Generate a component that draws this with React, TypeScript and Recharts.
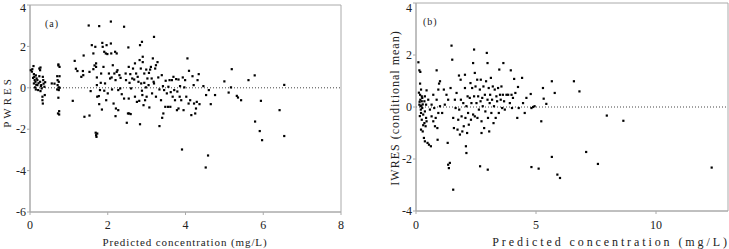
import {
  ScatterChart,
  Scatter,
  XAxis,
  YAxis,
  ReferenceLine,
  ReferenceArea,
  Label,
} from 'recharts'

// panel (a): predicted concentration (mg/L) vs PWRES
const lowConcA: [number, number][] = [
  [0.02, 0.85], [0.06, 0.9], [0.09, 1.05], [0.1, 0.66], [0.11, 0.53], [0.12, 0.37], [0.1, 0.21], [0.13, 0.02], [0.15, -0.08], [0.15, 0.6],
  [0.17, 0.45], [0.14, 0.29], [0.19, 0.13], [0.21, -0.11], [0.19, 0.37], [0.24, 0.93], [0.26, 0.85], [0.27, 0.98], [0.24, 0.56], [0.26, 0.29],
  [0.29, 0.13], [0.3, -0.03], [0.27, -0.16], [0.32, -0.43], [0.32, -0.6], [0.33, -0.76], [0.34, 0.37], [0.35, 0.2], [0.37, 0.05], [0.38, -0.35],
  [0.39, 0.27], [0.33, 0.53], [0.56, 0.21], [0.63, 0.2], [0.73, 1.13], [0.73, 1.08], [0.76, 1.01], [0.7, 0.56], [0.76, 0.56], [0.71, 0.37],
  [0.74, 0.29], [0.71, 0.13], [0.74, 0.02], [0.7, -0.08], [0.74, -0.11], [0.76, 0.0], [0.73, -0.48], [0.75, -1.13], [0.75, -1.29], [0.72, -1.24],
  [0.05, 0.78], [0.08, 0.48], [0.16, 0.15], [0.22, 0.22], [0.28, 0.08],
]

const midConcA: [number, number][] = [
  [1.1, -0.63], [1.15, 1.3], [1.18, 0.92], [1.22, 0.81], [1.32, 0.53], [1.36, 0.81], [1.38, 1.56], [1.4, -1.4], [1.37, 0.61], [1.51, 3.01],
  [1.53, -1.34], [1.53, 0.77], [1.56, -0.16], [1.59, 2.06], [1.63, 1.66], [1.66, 1.08], [1.63, 0.9], [1.68, 1.98], [1.7, 1.01], [1.7, 1.18],
  [1.72, 0.5], [1.72, 0.13], [1.73, -0.43], [1.69, -2.17], [1.7, -2.29], [1.71, -2.37], [1.73, -2.21], [1.78, 2.98], [1.77, -0.4], [1.78, -0.79],
  [1.8, -0.11], [1.82, 0.24], [1.83, 0.69], [1.85, -1.05], [1.86, 2.17], [1.87, 1.98], [1.89, 1.01], [1.91, -0.14], [1.91, 1.74], [1.93, 0.21],
  [1.95, 1.66], [1.96, -0.6], [1.97, 2.06], [1.99, 1.63], [2.0, -0.27], [2.03, 0.69], [2.06, 0.45], [2.08, 3.2], [2.08, 2.14], [2.09, 1.66],
  [2.1, 0.5], [2.11, -0.08], [2.13, 1.09], [2.15, -0.76], [2.17, 0.69], [2.19, 1.74], [2.2, 0.37], [2.2, -1.37], [2.21, -1.0], [2.23, 1.66],
  [2.23, 0.77], [2.25, 0.85], [2.27, -0.11], [2.27, -1.08], [2.3, 0.61], [2.32, -0.03], [2.33, 0.48], [2.36, -0.31], [2.42, 2.95], [2.42, -0.52],
  [2.46, 0.69], [2.47, 0.37], [2.49, -1.69], [2.52, -1.24], [2.53, 1.95], [2.54, 1.01], [2.54, -0.52], [2.55, -1.24], [2.56, 0.24], [2.58, 0.66],
  [2.59, -1.27], [2.6, -0.03], [2.63, 0.45], [2.65, 0.93], [2.68, 0.4], [2.7, -0.43], [2.7, 1.18], [2.73, 0.69], [2.75, -0.68], [2.77, 0.53],
  [2.79, 0.29], [2.81, -0.63], [2.82, 1.34], [2.83, -1.76], [2.83, 2.06], [2.85, 0.93], [2.86, 0.21], [2.88, 2.22], [2.88, -0.14], [2.89, -0.35],
  [2.9, 1.5], [2.9, 1.24], [2.92, -0.84], [2.94, 0.24], [2.94, 0.69], [2.96, -0.6], [2.98, 0.02], [2.99, 0.88],
]

const highConcA: [number, number][] = [
  [3.0, -0.43], [3.02, 0.45], [3.05, 0.13], [3.06, 0.72], [3.07, -0.95], [3.09, 0.88], [3.11, 1.01], [3.13, 0.45], [3.14, -0.27], [3.16, 1.42],
  [3.18, 0.29], [3.19, 2.46], [3.19, 0.21], [3.22, 0.93], [3.24, -0.43], [3.24, 1.09], [3.28, 1.24], [3.3, 0.5], [3.33, -0.08], [3.33, -1.85],
  [3.37, -0.6], [3.39, 0.61], [3.4, -1.45], [3.42, 0.08], [3.43, -1.24], [3.45, -0.11], [3.48, -0.92], [3.49, 0.34], [3.52, -0.27], [3.55, -0.92],
  [3.56, 0.05], [3.59, 0.37], [3.61, -0.92], [3.62, -0.21], [3.65, 0.37], [3.67, -0.43], [3.69, 0.53], [3.71, -0.11], [3.73, -0.6], [3.76, 0.42],
  [3.78, -1.08], [3.79, -0.18], [3.82, 0.4], [3.82, -1.0], [3.85, -0.43], [3.86, 0.08], [3.89, -0.6], [3.91, -2.98], [3.93, 0.5], [3.95, -1.08],
  [3.97, 0.02], [3.99, 0.37], [4.02, -0.43], [4.05, 1.42], [4.08, -0.76], [4.09, 0.82], [4.12, -0.6], [4.15, -1.32], [4.18, 0.56], [4.21, 0.13],
  [4.22, -0.76], [4.25, -1.24], [4.27, -1.0], [4.29, -0.68], [4.31, 0.37], [4.34, 0.66], [4.36, -0.79], [4.46, 0.08], [4.52, -3.85], [4.53, -0.35],
  [4.58, -3.27], [4.6, -0.11], [4.65, -0.79], [4.76, -0.35], [5.0, 0.31], [5.11, -0.23], [5.17, 0.02], [5.19, 0.9], [5.32, -0.39], [5.35, -0.47],
  [5.43, -0.6], [5.62, 0.37], [5.78, 0.6], [5.79, -1.63], [5.91, -2.09], [5.94, -0.63], [5.97, -2.53], [6.42, -1.08], [6.54, 0.14], [6.54, -2.33],
]

// panel (b): predicted concentration (mg/L) vs IWRES (conditional mean)
const lowConcB: [number, number][] = [
  [0.1, 1.72], [0.14, 1.41], [0.18, 1.35], [0.17, 0.9], [0.21, 0.67], [0.17, 0.47], [0.24, 0.41], [0.18, 0.28], [0.24, 0.22], [0.14, 0.09],
  [0.19, 0.03], [0.26, -0.04], [0.21, -0.23], [0.3, -0.29], [0.24, -0.49], [0.21, -0.87], [0.28, -0.94], [0.35, 0.22], [0.37, 0.41], [0.42, 0.09],
  [0.37, -0.17], [0.42, -0.42], [0.35, -0.62], [0.4, -0.74], [0.44, -0.55], [0.33, -1.19], [0.37, -1.32], [0.48, -1.38], [0.54, -1.45], [0.62, -1.51],
  [0.44, 0.64], [0.51, 0.28], [0.58, -0.1], [0.65, 0.09], [0.65, -0.36], [0.72, 0.47], [0.72, -0.55], [0.76, -0.04], [0.79, -0.74], [0.82, -0.42],
  [0.86, 1.41], [0.86, 0.28], [0.89, -0.81], [0.9, -1.26], [0.93, 0.67], [0.93, -0.23], [0.96, 0.9], [1.0, 0.99], [1.0, 0.03], [1.09, -0.23],
  [1.16, 0.67], [1.2, 0.09], [1.27, 0.47], [1.32, -1.38], [1.34, 0.28], [1.34, -2.22], [1.37, -2.35], [1.41, -2.15], [1.44, 0.73], [1.48, 2.36],
  [0.12, 0.55], [0.15, 0.2], [0.2, -0.1], [0.16, -0.35], [0.28, 0.1], [0.3, -0.7], [0.22, 0.05], [0.26, 0.35],
]

const midConcB: [number, number][] = [
  [1.51, 1.82], [1.55, -3.18], [1.55, -0.42], [1.58, -0.81], [1.62, 0.28], [1.65, -0.04], [1.69, 0.54], [1.73, -0.87], [1.76, -0.49], [1.79, 1.21],
  [1.8, -0.1], [1.83, -1.06], [1.86, 1.05], [1.87, 0.28], [1.9, -0.36], [1.93, -0.94], [1.97, 0.15], [1.99, -0.74], [2.04, 1.24], [2.04, 0.73],
  [2.06, -0.42], [2.08, -1.51], [2.1, -1.77], [2.1, 0.03], [2.13, -1.0], [2.15, 0.41], [2.17, -0.23], [2.2, -0.68], [2.24, 0.35], [2.27, 0.92],
  [2.29, -0.49], [2.31, 0.15], [2.34, 0.73], [2.38, 1.69], [2.38, -0.29], [2.42, 2.21], [2.42, 0.41], [2.45, 1.31], [2.45, -0.36], [2.48, 0.79],
  [2.52, 0.15], [2.55, 1.05], [2.56, -0.42], [2.59, 0.41], [2.62, -0.1], [2.66, 0.67], [2.67, -2.28], [2.69, 0.22], [2.7, 1.05], [2.73, -0.55],
  [2.73, -1.0], [2.76, 0.35], [2.78, 0.03], [2.81, 0.79], [2.84, -0.81], [2.87, 0.47], [2.89, -0.17], [2.92, 0.99], [2.95, 2.08], [2.98, 1.69],
  [2.98, 0.28], [2.99, -2.41],
]

const highConcB: [number, number][] = [
  [3.0, -0.42], [3.03, 0.73], [3.05, -0.94], [3.07, 0.15], [3.09, 0.47], [3.12, 1.12], [3.14, -0.23], [3.17, 0.28], [3.2, 0.79], [3.23, -0.62],
  [3.25, 0.03], [3.28, 0.67], [3.32, -0.42], [3.35, 0.41], [3.38, 0.22], [3.42, 0.73], [3.45, -0.23], [3.47, 1.44], [3.5, 0.47], [3.53, 0.28],
  [3.56, 0.79], [3.59, -0.04], [3.62, 0.47], [3.64, 1.69], [3.67, 0.22], [3.7, -0.1], [3.77, 0.47], [3.84, 0.47], [3.91, 0.15], [3.95, 1.41],
  [3.98, 0.47], [4.0, -0.04], [4.04, 0.35], [4.09, 1.08], [4.14, 0.54], [4.22, -0.42], [4.25, 0.77], [4.28, -0.04], [4.42, 1.12], [4.46, 0.15],
  [4.53, -0.23], [4.6, 0.35], [4.78, 0.5], [4.81, -0.04], [4.81, -2.31], [4.88, 0.0], [4.94, 0.03], [5.11, -2.37], [5.22, -0.55], [5.29, 0.73],
  [5.32, 0.32], [5.43, 0.12], [5.66, 0.99], [5.66, -1.92], [5.78, 0.54], [5.89, -2.6], [6.0, -2.73], [6.58, 0.99], [6.81, 0.6], [7.09, -1.73],
  [7.58, -2.19], [7.95, -0.33], [8.64, -0.53], [12.32, -2.33],
]

const xTicksA = [0, 2, 4, 6, 8]
const yTicksA = [-6, -4, -2, 0, 2, 4]
const xTicksB = [0, 5, 10]
const yTicksB = [-4, -2, 0, 2, 4]

const FONT = '"Liberation Serif", "Times New Roman", serif'
const AXIS = '#aaaaaa'
const tickStyle = { fill: '#222', fontSize: 12, fontFamily: FONT }

const toPoints = (rows: [number, number][]) => rows.map(([x, y]) => ({ x, y }))

const Dot = (props: any) => (
  <rect x={props.cx - 1.1} y={props.cy - 1.1} width={2.2} height={2.2} fill="#000" />
)

const xTitle = (cx: number, size: number, spacing: number) => () => (
  <text x={cx} y={246} textAnchor="middle" fontFamily={FONT} fontSize={size} letterSpacing={spacing} fill="#222">
    Predicted concentration (mg/L)
  </text>
)

const yTitle = (text: string, cx: number, cy: number, size: number, spacing: number) => () => (
  <text
    x={cx}
    y={cy}
    transform={`rotate(-90 ${cx} ${cy})`}
    textAnchor="middle"
    dominantBaseline="central"
    fontFamily={FONT}
    fontSize={size}
    letterSpacing={spacing}
    fill="#222"
  >
    {text}
  </text>
)

const panelTag = { position: 'absolute' as const, fontFamily: FONT, fontSize: 10, lineHeight: '10px', letterSpacing: 1, color: '#222' }

export default function App() {
  const dataA = toPoints([...lowConcA, ...midConcA, ...highConcA])
  const dataB = toPoints([...lowConcB, ...midConcB, ...highConcB])

  return (
    <div style={{ position: 'absolute', left: 0, top: 0, width: 729, height: 249, background: '#fff' }}>
      <div style={{ position: 'absolute', left: 0, top: 0 }}>
        <ScatterChart width={345} height={249} margin={{ top: 5, right: 4, bottom: 0, left: 0 }}>
          <XAxis
            type="number"
            dataKey="x"
            domain={[0, 8]}
            ticks={xTicksA}
            height={37}
            stroke={AXIS}
            tickSize={3}
            tickMargin={5}
            tick={tickStyle}
          >
            <Label content={xTitle(185, 11, 0.9)} />
          </XAxis>
          <YAxis
            type="number"
            dataKey="y"
            domain={[-6, 4]}
            ticks={yTicksA}
            width={30}
            stroke={AXIS}
            tickSize={3}
            tickMargin={1}
            tick={tickStyle}
          >
            <Label content={yTitle('PWRES', 7, 102, 11, 3)} />
          </YAxis>
          <ReferenceArea x1={0} x2={8} y1={-6} y2={4} fill="none" stroke={AXIS} />
          <ReferenceLine y={0} stroke="#444" strokeDasharray="1 2" />
          <Scatter data={dataA} shape={Dot} isAnimationActive={false} />
        </ScatterChart>
      </div>
      <div style={{ position: 'absolute', left: 365, top: 0 }}>
        <ScatterChart width={364} height={249} margin={{ top: 3, right: 1, bottom: 0, left: 0 }}>
          <XAxis
            type="number"
            dataKey="x"
            domain={[0, 13]}
            ticks={xTicksB}
            height={38}
            stroke={AXIS}
            tickSize={3}
            tickMargin={6}
            tick={tickStyle}
          >
            <Label content={xTitle(246, 12, 2.9)} />
          </XAxis>
          <YAxis
            type="number"
            dataKey="y"
            domain={[-4, 4]}
            ticks={yTicksB}
            width={51}
            stroke={AXIS}
            tickSize={3}
            tickMargin={1}
            tick={tickStyle}
          >
            <Label content={yTitle('IWRES (conditional mean)', 30, 108, 12, 1)} />
          </YAxis>
          <ReferenceArea x1={0} x2={13} y1={-4} y2={4} fill="none" stroke={AXIS} />
          <ReferenceLine y={0} stroke="#444" strokeDasharray="1 2" />
          <Scatter data={dataB} shape={Dot} isAnimationActive={false} />
        </ScatterChart>
      </div>
      <div style={{ ...panelTag, left: 45, top: 19 }}>(a)</div>
      <div style={{ ...panelTag, left: 423, top: 17 }}>(b)</div>
    </div>
  )
}
